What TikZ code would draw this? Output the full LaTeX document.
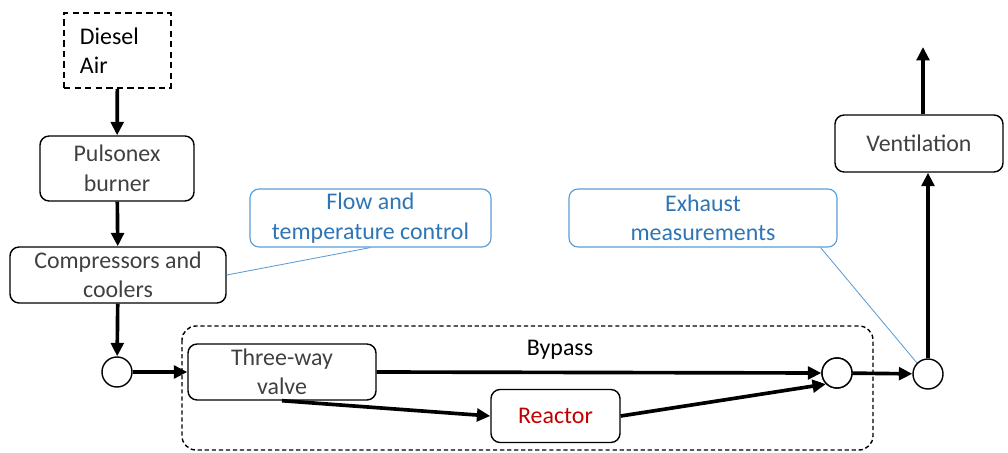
\documentclass[tikz,border=0pt]{standalone}
\usepackage{fontspec}
\setmainfont{Carlito}
\usetikzlibrary{arrows.meta,positioning,calc}
\definecolor{boxtext}{HTML}{404040}
\definecolor{notetext}{HTML}{2E75B6}
\definecolor{noteline}{HTML}{5B9BD5}
\definecolor{reactred}{HTML}{C00000}

\begin{document}
\begin{tikzpicture}[x=0.025cm,y=-0.025cm,>={Triangle[length=9.5pt,width=9pt]},
  font=\fontsize{17}{21}\selectfont]
\tikzstyle{proc node}=[rectangle,draw,line width=1pt,rounded corners=6.5pt,align=center,text=boxtext,inner sep=1pt]
\tikzstyle{joint node}=[circle,draw,line width=1pt,fill=white,minimum size=0.75cm,inner sep=0]
\tikzstyle{note node}=[rectangle,draw=noteline,line width=0.8pt,rounded corners=6.5pt,align=center,text=notetext,inner sep=1pt]

\tikzset{
	flow/.style={->,line width=2.6pt},
	frame line/.style={line width=1pt,dash pattern=on 3pt off 2pt},
	source line/.style={line width=1.1pt,dash pattern=on 4.5pt off 3pt},
	note link/.style={draw=noteline,line width=0.6pt}
}

\useasboundingbox (0,0) rectangle (1008,453);

      \node[draw,source line,minimum width=2.675cm,minimum height=1.875cm,
            text width=1.875cm,align=left,inner xsep=0.4cm] (fuel) at (117.5,50.5) {Diesel\\Air};
      \node[proc node,minimum width=3.85cm,minimum height=1.625cm] (burner) at (117,168.5) {Pulsonex\\burner};
      \node[proc node,minimum width=5.4cm,minimum height=1.4cm] (comp) at (118,275) {Compressors and\\coolers};
      \node[joint node] (j1) at (117,372) {};
      \node[proc node,minimum width=4.7cm,minimum height=1.4cm] (valve) at (282,372) {Three-way\\valve};
      \node[proc node,minimum width=3.225cm,minimum height=1.325cm,text=reactred] (reactor) at (555.5,416) {Reactor};
      \node[joint node] (j2) at (837,373) {};
      \node[joint node] (j3) at (928,374) {};
      \node[proc node,minimum width=4.2cm,minimum height=1.425cm] (vent) at (919,143.5) {Ventilation};
      \node[note node,minimum width=6.025cm,minimum height=1.45cm] (ctrl) at (370.5,218) {Flow and\\temperature control};
      \node[note node,minimum width=6.7cm,minimum height=1.45cm] (exh) at (703,218) {Exhaust\\measurements};
      \node (bypass) at (560,350) {Bypass};
      \coordinate (out) at (923,47);

      % bypass frame
      \draw[frame line,rounded corners=10pt] (182,326) rectangle (873,450);
      \node[joint node] at (j2) {};

    \path[flow] (fuel) edge (burner)
                (burner) edge (comp)
                (comp) edge (j1)
                (j1) edge (valve)
                (valve.east) edge (j2.west)
                (valve.south) edge (reactor.west)
                (reactor.east) edge (j2.south west)
                (j2) edge (j3)
                (j3) edge (j3 |- vent.south)
                (out |- vent.north) edge (out);

    \path[note link] (comp.east) edge (ctrl.south)
                ([xshift=-0.425cm]exh.south east) edge (j3.north west);
\end{tikzpicture}
\end{document}
